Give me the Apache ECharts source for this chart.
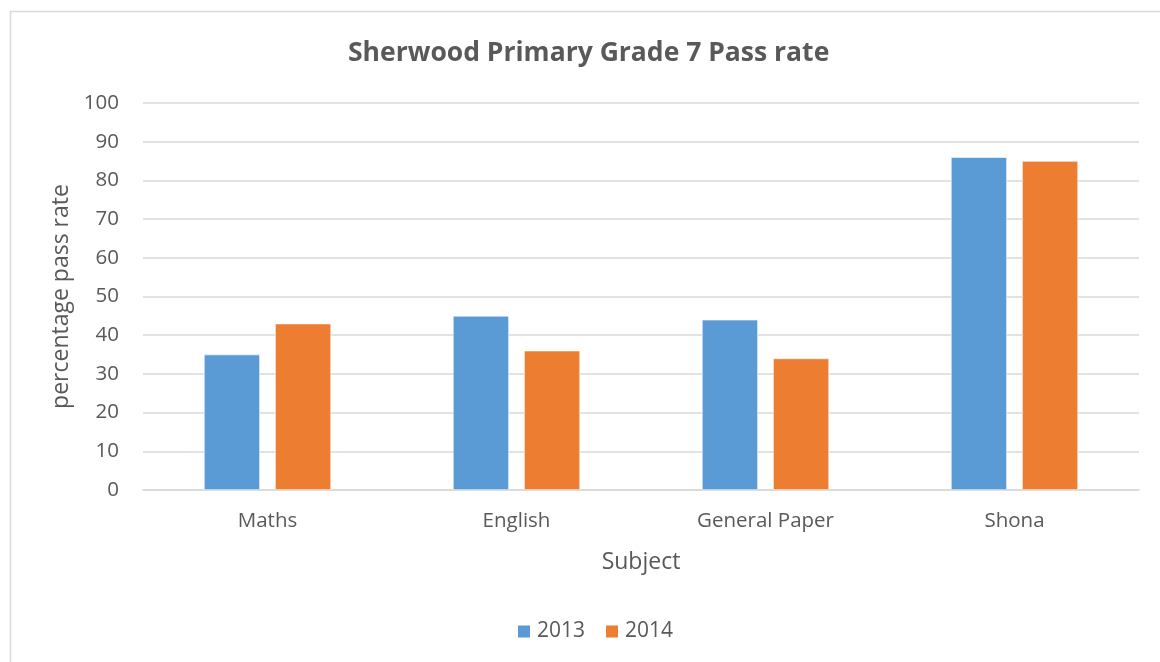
<!DOCTYPE html>
<html>
<head>
<meta charset="utf-8">
<script src="https://cdn.jsdelivr.net/npm/echarts@6/dist/echarts.min.js"></script>
<style>
  html, body { margin: 0; padding: 0; background: #fff; }
  #chart { width: 1160px; height: 662px; }
</style>
</head>
<body>
<div id="chart"></div>
<script>
// Grade 7 pass rates by subject, two school years
const subjects = ['Maths', 'English', 'General Paper', 'Shona'];
const years = ['2013', '2014'];
const rate2013 = [35, 45, 44, 86];
const rate2014 = [43, 36, 34, 85];
const yTicks = { min: 0, max: 100, interval: 10 };

const textColor = '#595959';
const gridColor = '#d9d9d9';
const font = '"Open Sans", "Noto Sans", sans-serif';

const chart = echarts.init(document.getElementById('chart'), null, { renderer: 'canvas' });

chart.setOption({
  animation: false,
  backgroundColor: '#ffffff',
  textStyle: { fontFamily: font, color: textColor },
  graphic: [{
    type: 'polyline',
    silent: true,
    shape: { points: [[10.5, 700], [10.5, 11.5], [1200, 11.5]] },
    style: { stroke: gridColor, lineWidth: 1.5, fill: null }
  }],
  title: {
    text: 'Sherwood Primary Grade 7 Pass rate',
    left: 348,
    top: 40,
    padding: 0,
    textStyle: { fontFamily: font, fontSize: 26.5, fontWeight: 'bold', color: textColor }
  },
  legend: {
    data: years,
    bottom: 15,
    left: 511,
    itemWidth: 14,
    itemHeight: 14,
    itemGap: 19,
    icon: 'rect',
    textStyle: { fontFamily: font, fontSize: 21, color: textColor, padding: [0, 0, 0, 1] }
  },
  grid: { left: 143, right: 21, top: 103, bottom: 172, containLabel: false },
  xAxis: {
    type: 'category',
    data: subjects,
    name: 'Subject',
    nameLocation: 'middle',
    nameGap: 61,
    nameTextStyle: { fontFamily: font, fontSize: 23, color: textColor },
    axisLine: { show: true, lineStyle: { color: gridColor, width: 1.5 } },
    axisTick: { show: false },
    axisLabel: { fontFamily: font, fontSize: 20.5, color: textColor, margin: 21 }
  },
  yAxis: {
    type: 'value',
    min: yTicks.min,
    max: yTicks.max,
    interval: yTicks.interval,
    name: 'percentage pass rate',
    nameLocation: 'middle',
    nameGap: 69,
    nameTextStyle: { fontFamily: font, fontSize: 23, color: textColor },
    axisLine: { show: false },
    axisTick: { show: false },
    axisLabel: { fontFamily: font, fontSize: 20.5, color: textColor, margin: 24 },
    splitLine: { lineStyle: { color: gridColor, width: 1.5 } }
  },
  series: [
    {
      name: years[0],
      type: 'bar',
      data: rate2013,
      barWidth: 56,
      barGap: '27%',
      itemStyle: { color: '#5B9BD5', borderColor: '#ffffff', borderWidth: 0.6 }
    },
    {
      name: years[1],
      type: 'bar',
      data: rate2014,
      barWidth: 56,
      barGap: '27%',
      itemStyle: { color: '#ED7D31', borderColor: '#ffffff', borderWidth: 0.6 }
    }
  ]
});
</script>
</body>
</html>
